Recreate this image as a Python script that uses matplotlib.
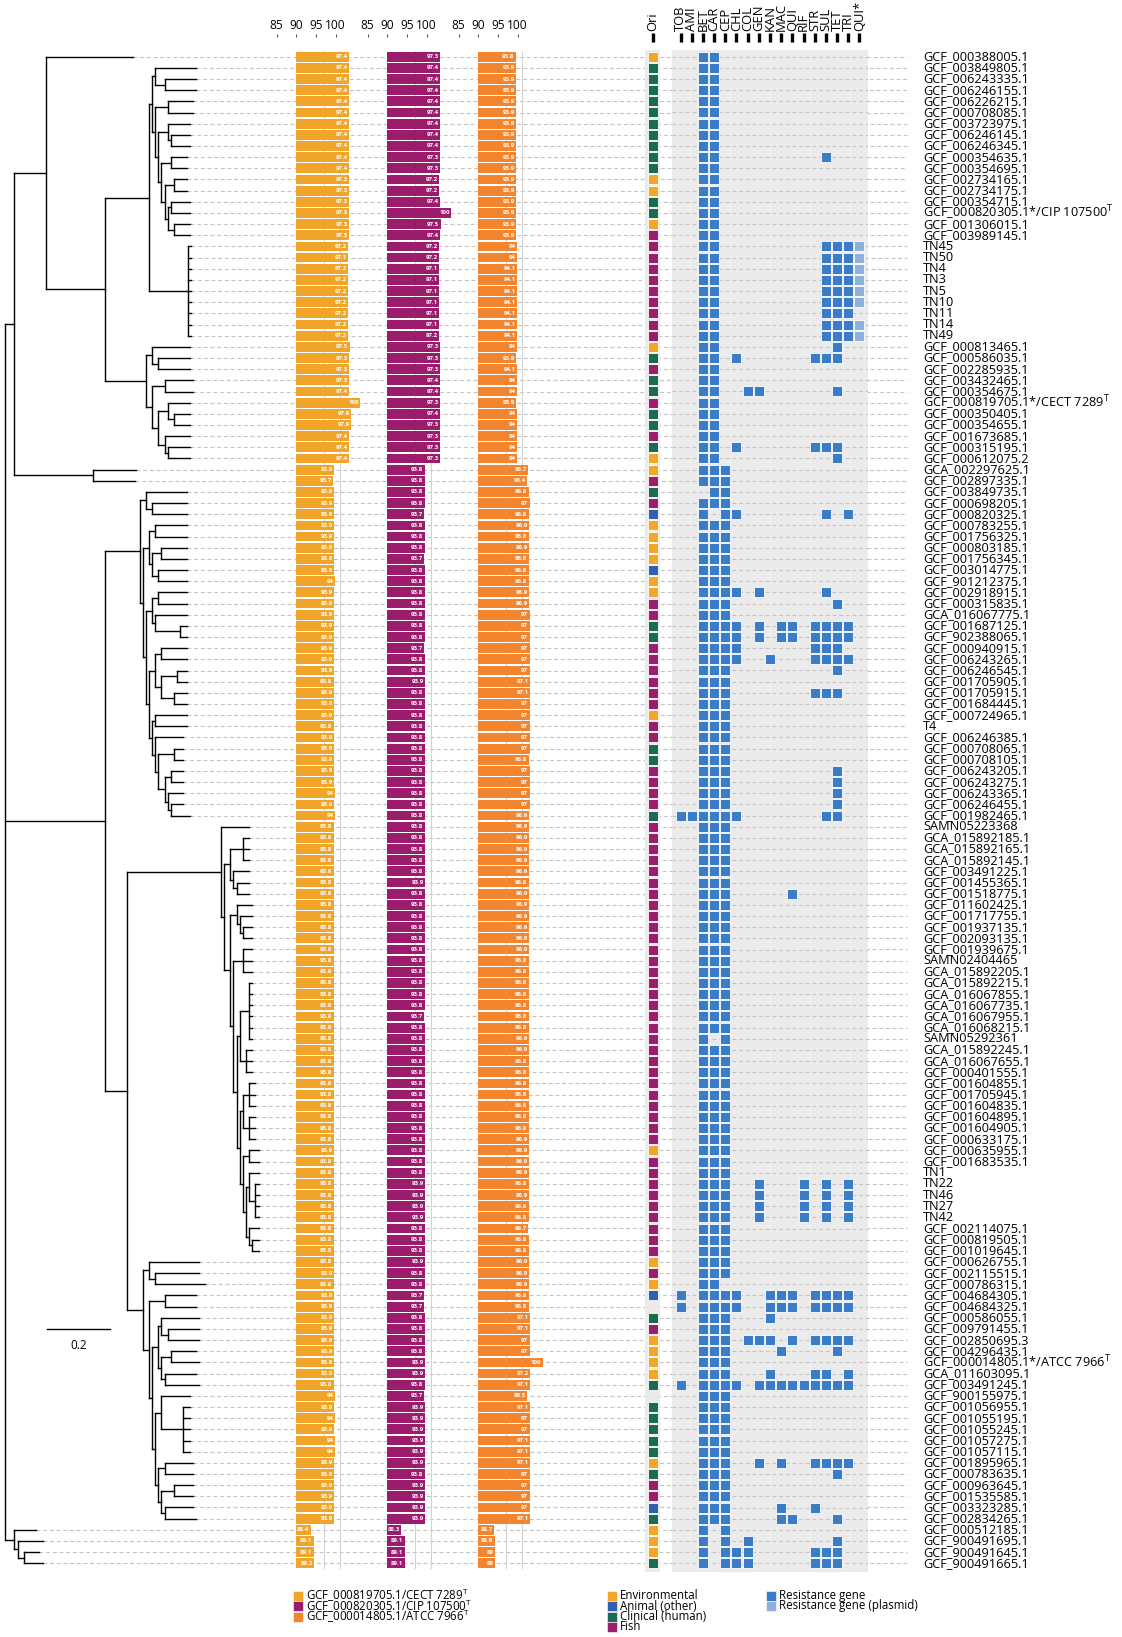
import matplotlib
matplotlib.use("Agg")
import matplotlib.pyplot as plt
import numpy as np

plt.rcParams["font.family"] = ["Open Sans", "DejaVu Sans"]

W, H = 1122, 1637

labels = [
    "GCF_000388005.1", "GCF_003849805.1", "GCF_006243335.1", "GCF_006246155.1", "GCF_006226215.1",
    "GCF_000708085.1", "GCF_003723975.1", "GCF_006246145.1", "GCF_006246345.1", "GCF_000354635.1",
    "GCF_000354695.1", "GCF_002734165.1", "GCF_002734175.1", "GCF_000354715.1",
    "GCF_000820305.1*/CIP 107500$^{\\mathregular{T}}$", "GCF_001306015.1", "GCF_003989145.1",
    "TN45", "TN50", "TN4", "TN3", "TN5", "TN10", "TN11", "TN14", "TN49",
    "GCF_000813465.1", "GCF_000586035.1", "GCF_002285935.1", "GCF_003432465.1", "GCF_000354675.1",
    "GCF_000819705.1*/CECT 7289$^{\\mathregular{T}}$", "GCF_000350405.1", "GCF_000354655.1",
    "GCF_001673685.1", "GCF_000315195.1", "GCF_000612075.2", "GCA_002297625.1", "GCF_002897335.1",
    "GCF_003849735.1", "GCF_000698205.1", "GCF_000820325.1", "GCF_000783255.1", "GCF_001756325.1",
    "GCF_000803185.1", "GCF_001756345.1", "GCF_003014775.1", "GCF_901212375.1", "GCF_002918915.1",
    "GCF_000315835.1", "GCA_016067775.1", "GCF_001687125.1", "GCF_902388065.1", "GCF_000940915.1",
    "GCF_006243265.1", "GCF_006246545.1", "GCF_001705905.1", "GCF_001705915.1", "GCF_001684445.1",
    "GCF_000724965.1", "T4", "GCF_006246385.1", "GCF_000708065.1", "GCF_000708105.1",
    "GCF_006243205.1", "GCF_006243275.1", "GCF_006243365.1", "GCF_006246455.1", "GCF_001982465.1",
    "SAMN05223368", "GCA_015892185.1", "GCA_015892165.1", "GCA_015892145.1", "GCF_003491225.1",
    "GCF_001455365.1", "GCF_001518775.1", "GCF_011602425.1", "GCF_001717755.1", "GCF_001937135.1",
    "GCF_002093135.1", "GCF_001939675.1", "SAMN02404465", "GCA_015892205.1", "GCA_015892215.1",
    "GCA_016067855.1", "GCA_016067735.1", "GCA_016067955.1", "GCA_016068215.1", "SAMN05292361",
    "GCA_015892245.1", "GCA_016067655.1", "GCF_000401555.1", "GCF_001604855.1", "GCF_001705945.1",
    "GCF_001604835.1", "GCF_001604895.1", "GCF_001604905.1", "GCF_000633175.1", "GCF_000635955.1",
    "GCF_001683535.1", "TN1", "TN22", "TN46", "TN27", "TN42", "GCF_002114075.1", "GCF_000819505.1",
    "GCF_001019645.1", "GCF_000626755.1", "GCF_002115515.1", "GCF_000786315.1", "GCF_004684305.1",
    "GCF_004684325.1", "GCF_000586055.1", "GCF_009791455.1", "GCF_002850695.3", "GCF_004296435.1",
    "GCF_000014805.1*/ATCC 7966$^{\\mathregular{T}}$", "GCA_011603095.1", "GCF_003491245.1",
    "GCF_900155975.1", "GCF_001056955.1", "GCF_001055195.1", "GCF_001055245.1", "GCF_001057275.1",
    "GCF_001057115.1", "GCF_001895965.1", "GCF_000783635.1", "GCF_000963645.1", "GCF_001535585.1",
    "GCF_003323285.1", "GCF_002834265.1", "GCF_000512185.1", "GCF_900491695.1", "GCF_900491645.1",
    "GCF_900491665.1",
]

# origin per strain: E environmental, A animal (other), C clinical (human), F fish, - unknown
origin = (
    "ECCCCCCCCCCEECCEF" "FFFFFFFFF" "ECFCCFCCFCE" "EFCFAEEE"
    "EAEEFFCCFFFFFFEFFCCFFFF" "C" "FFFFFFFFFFFFFFFFFFFFFF"
    "FFFFFFFEFF" "FFFFF" "FFEFEA-C" "FEEEEC-CCCCCECFFACEEEC"
)

# ANI (%) against the three type strains
ani_cect = [
    97.4, 97.4, 97.4, 97.4, 97.4, 97.4, 97.4, 97.4, 97.4, 97.4, 97.4, 97.3, 97.3, 97.3, 97.3, 97.3, 97.3,
    97.2, 97.1, 97.2, 97.2, 97.2, 97.2, 97.2, 97.2, 97.2,
    97.5, 97.3, 97.3, 97.3, 97.4, 100, 97.9, 97.9, 97.4, 97.4, 97.4,
    93.9, 93.7, 93.9, 93.9, 93.9, 93.9, 93.9, 93.9, 93.9, 93.9, 94, 93.9, 93.9, 93.9, 93.9, 93.9,
    93.9, 93.9, 93.9, 93.8, 93.9, 93.9, 93.9, 93.8, 93.9, 93.9, 93.9, 93.9, 93.9, 94, 93.9, 94,
    93.8, 93.8, 93.8, 93.8, 93.8, 93.8, 93.8, 93.8, 93.8, 93.8, 93.8, 93.8, 93.8, 93.8, 93.8, 93.8,
    93.8, 93.8, 93.8, 93.8, 93.8, 93.8, 93.8, 93.8, 93.8, 93.8, 93.8, 93.8, 93.8, 93.9, 93.8, 93.8,
    93.8, 93.8, 93.8, 93.8, 93.8, 93.8, 93.8, 93.8, 93.9, 93.8, 93.9, 93.9, 93.9, 93.9, 93.9, 93.9,
    93.9, 93.9, 93.8, 94, 93.9, 94, 93.9, 94, 94, 93.9, 93.9, 93.9, 93.9, 93.9, 93.9,
    88.4, 89.1, 89.1, 89.2,
]
ani_cip = [
    97.3, 97.4, 97.4, 97.4, 97.4, 97.4, 97.4, 97.4, 97.4, 97.3, 97.3, 97.2, 97.2, 97.4, 100, 97.5, 97.4,
    97.2, 97.2, 97.1, 97.1, 97.1, 97.1, 97.1, 97.1, 97.2,
    97.3, 97.3, 97.3, 97.4, 97.4, 97.3, 97.4, 97.3, 97.3, 97.3, 97.3,
    93.8, 93.8, 93.8, 93.8, 93.7, 93.8, 93.8, 93.8, 93.7, 93.8, 93.8, 93.8, 93.8, 93.8, 93.8, 93.8,
    93.7, 93.8, 93.8, 93.9, 93.8, 93.8, 93.8, 93.8, 93.8, 93.8, 93.8, 93.8, 93.8, 93.8, 93.8, 93.8,
    93.8, 93.8, 93.8, 93.8, 93.8, 93.9, 93.8, 93.8, 93.8, 93.8, 93.8, 93.8, 93.8, 93.8, 93.8, 93.8,
    93.8, 93.7, 93.8, 93.8, 93.8, 93.8, 93.8, 93.8, 93.8, 93.8, 93.8, 93.8, 93.8, 93.8, 93.8, 93.8,
    93.9, 93.9, 93.9, 93.9, 93.8, 93.8, 93.8, 93.9, 93.8, 93.8, 93.7, 93.7, 93.8, 93.8, 93.8, 93.8,
    93.9, 93.9, 93.8, 93.7, 93.9, 93.9, 93.9, 93.9, 93.9, 93.9, 93.8, 93.9, 93.9, 93.9, 93.9,
    88.3, 89.1, 89.1, 89.1,
]
ani_atcc = [
    93.8, 93.9, 93.9, 93.9, 93.9, 93.9, 93.9, 93.9, 93.9, 93.9, 93.9, 93.9, 93.9, 93.9, 93.9, 93.9, 93.9,
    94, 94, 94.1, 94.1, 94.1, 94.1, 94.1, 94.1, 94.1,
    94, 93.9, 94.1, 94, 94, 93.9, 94, 94, 94, 94, 94,
    96.7, 96.4, 96.8, 97, 96.8, 96.9, 96.8, 96.9, 96.8, 96.8, 96.8, 96.9, 96.9, 97, 97, 97,
    97, 97, 97, 97.1, 97.1, 97, 97, 97, 97, 97, 96.8, 97, 97, 97, 97, 96.9,
    96.9, 96.9, 96.9, 96.9, 96.9, 96.8, 96.9, 96.9, 96.9, 96.9, 96.9, 96.9, 96.8, 96.8, 96.8, 96.8,
    96.8, 96.8, 96.8, 96.9, 96.9, 96.8, 96.8, 96.8, 96.8, 96.8, 96.8, 96.8, 96.9, 96.9, 96.9, 96.9,
    96.8, 96.9, 96.8, 96.8, 96.7, 96.8, 96.8, 96.9, 96.9, 96.9, 96.8, 96.8, 97.1, 97.1, 97, 97,
    100, 97.2, 97.1, 96.5, 97.1, 97, 97, 97.1, 97.1, 97.1, 97, 97, 97, 97, 97.1,
    88.7, 88.9, 89, 89,
]

drugs = ["TOB", "AMI", "BET", "CAR", "CEP", "CHL", "COL", "GEN", "KAN", "MAC",
         "QUI", "RIF", "STR", "SUL", "TET", "TRI", "QUI*"]
# resistance profile per strain: 1 = gene, p = gene on plasmid
res = [
    "..11.............", "..11.............", "..11.............", "..11.............",
    "..11.............", "..11.............", "..11.............", "..11.............",
    "..11.............", "..11.........1...", "..11.............", "..11.............",
    "..11.............", "..11.............", "..11.............", "..11.............",
    "..11.............",
    "..11.........111p", "..11.........111p", "..11.........111p", "..11.........111p",
    "..11.........111p", "..11.........111p", "..11.........111.", "..11.........111p",
    "..11.........111p",
    "..11..........1..", "..11.1......111..", "..11.............", "..11.............",
    "..11..11......1..", "..11.............", "..11.............", "..11.............",
    "..11.............", "..11.1......111..", "..11..........1..",
    "..111............", "..111............", "...11............", "..111............",
    "..1.11.......1.1.", "..111............", "..111............", "..111............",
    "..111............", "..111............", "..111............", "..1111.1.....1...",
    "..111.........1..", "..111............", "..1111.1.11.1111.", "..1111.1.11.1111.",
    "..1111......111..", "..1111..1...1111.", "..111.........1..", "..111............",
    "..111.......111..", "..111............", "..111............", "..111............",
    "..111............", "..111............", "..111............",
    "..111.........1..", "..111.........1..", "..111.........1..", "..111.........1..",
    "111111.......11..",
    "..111............", "..111............", "..111............", "..111............",
    "..111............", "..111............", "..111.....1......", "..111............",
    "..111............", "..111............", "..111............", "..111............",
    "..111............", "..111............", "..111............", "..111............",
    "..111............", "..111............", "..111............", "..1.1............",
    "..111............", "..111............", "..111............", "..111............",
    "..111............", "..111............", "..111............", "..111............",
    "..111............", "..111............", "..111............", "..111............",
    "..111..1...1.1.1.", "..111..1...1.1.1.", "..111..1...1.1.1.", "..111..1...1.1.1.",
    "..111............", "..111............", "..111............", "..111............",
    "..111............", "..11.............", "1.1111..111.1111.", "1.1111..111.1111.",
    "..111...1........", "..111............", "..111.111.1.1111.", "..111....1....1..",
    "..111............", "..111...1...11.1.", "1.1111.111111111.", "..111............",
    "..111............", "..111............", "..111............", "..111............",
    "..111............", "..111..1.1..1111.", "..111.........1..", "..111............",
    "..111............", "..111....1..1....", "..111....11...1..", "..1.1............",
    "..1.1.1.......1..", "..1.111.....111..", "..1.111.....111..",
]

# phylogeny, one Newick piece per clade (leaf names are row numbers, lengths in subst./site)
clade_a1 = ("((1:0.13,(2:0.1,3:0.1):0.03):0.01,((4:0.08,5:0.08):0.04,((6:0.07,(7:0.06,8:0.06):0.01):0.03,"
            "((9:0.05,10:0.05):0.03,((11:0.04,12:0.04):0.03,((13:0.06,14:0.06):0.01,(15:0.05,16:0.05):0.02)"
            ":0.01):0.01):0.01):0.01):0.01)")
clade_tn = "(17:0.01,18:0.01,19:0.01,20:0.01,21:0.01,22:0.01,23:0.01,24:0.01,25:0.01)"
clade_a3 = ("((26:0.12,(27:0.1,28:0.1):0.02):0.02,((29:0.09,30:0.09):0.04,((31:0.07,(32:0.05,33:0.05):0.02)"
            ":0.03,(34:0.08,(35:0.07,36:0.07):0.01):0.02):0.02):0.02)")
clade_c = "(37:0.14,38:0.135)"
clade_b2 = ("((39:0.13,(40:0.11,41:0.11):0.02):0.02,(((42:0.1,43:0.1):0.02,((44:0.08,45:0.08):0.03,"
            "(46:0.09,47:0.09):0.02):0.01):0.02,(((48:0.09,49:0.09):0.02,(50:0.1,(51:0.02,52:0.02):0.08)"
            ":0.01):0.02,(((53:0.08,54:0.08):0.02,((55:0.03,56:0.03):0.05,(57:0.04,58:0.04):0.04):0.02)"
            ":0.02,((59:0.1,60:0.1):0.01,(61:0.09,((62:0.03,63:0.03):0.05,((64:0.04,65:0.04):0.02,"
            "(66:0.05,(67:0.04,68:0.06):0.01):0.01):0.02):0.01):0.01):0.01):0.01):0.01):0.01)")
clade_b3 = ("(69:0.09,(((70:0.02,71:0.02,72:0.02):0.04,(73:0.05,(74:0.04,75:0.04):0.01):0.01):0.02,"
            "((76:0.05,(77:0.04,(78:0.03,79:0.03):0.01):0.01):0.02,((80:0.03,81:0.03,82:0.03):0.03,"
            "(((83:0.01,84:0.01,85:0.01,86:0.01,87:0.01,88:0.01):0.03,(89:0.02,90:0.02,91:0.02):0.02):0.01,"
            "(((92:0.02,93:0.02,94:0.02):0.02,(95:0.02,96:0.02,97:0.02):0.02):0.01,((98:0.03,99:0.03):0.02,"
            "((100:0.03,(101:0.01,102:0.01,103:0.01,104:0.01):0.02):0.01,(105:0.03,(106:0.02,107:0.02):0.01)"
            ":0.01):0.01):0.01):0.01):0.01):0.01):0.02):0.01)")
clade_b4 = ("((108:0.16,(109:0.14,110:0.16):0.02):0.02,((111:0.1,112:0.1):0.05,(((113:0.12,(114:0.1,115:0.1)"
            ":0.02):0.01,((116:0.08,117:0.09):0.03,(118:0.1,119:0.11):0.01):0.01):0.02,((120:0.09,"
            "(121:0.02,122:0.02,123:0.02,124:0.02,125:0.02):0.07):0.02,((126:0.09,127:0.09):0.02,"
            "((128:0.06,129:0.06):0.04,(130:0.09,131:0.1):0.01):0.01):0.01):0.01):0.01):0.02)")
clade_out = "(132:0.07,(133:0.08,(134:0.05,135:0.06):0.02):0.01)"

newick = (
    "(((0:0.28,((" + clade_a1 + ":0.01," + clade_tn + ":0.125):0.14," + clade_a3 + ":0.13):0.19):0.10,"
    + clade_c + ":0.25):0.03,"
    + "(" + clade_b2 + ":0.11,(" + clade_b3 + ":0.3," + clade_b4 + ":0.05):0.07):0.32,"
    + clade_out + ":0.03);"
)

col_origin = {"E": "#F2A72B", "A": "#2F61AE", "C": "#1D6B4F", "F": "#9A1E6C"}
col_panels = ["#F0A52A", "#9B1C6D", "#F4852F"]
col_res = "#3A7CC8"
col_plasmid = "#8DB0DD"
bg_gray = "#EBEBEB"
dash_gray = "#C4C4C4"


def parse_newick(s):
    pos = 0

    def node():
        nonlocal pos
        children = []
        if s[pos] == "(":
            pos += 1
            while True:
                children.append(node())
                if s[pos] == ",":
                    pos += 1
                    continue
                pos += 1  # ")"
                break
        start = pos
        while s[pos] not in ":,();":
            pos += 1
        name = s[start:pos]
        length = 0.0
        if s[pos] == ":":
            pos += 1
            start = pos
            while s[pos] not in ",();":
                pos += 1
            length = float(s[start:pos])
        return {"name": name, "len": length, "children": children}

    return node()


def layout(n, x0=0.0):
    n["x"] = x0 + n["len"]
    if not n["children"]:
        n["y"] = float(int(n["name"]))
        return
    for c in n["children"]:
        layout(c, n["x"])
    n["y"] = float(np.mean([c["y"] for c in n["children"]]))


def draw_tree(ax, n, parent_x, tips):
    ax.plot([parent_x, n["x"]], [n["y"], n["y"]], color="black", lw=1.0, solid_capstyle="projecting")
    if n["children"]:
        ys = [c["y"] for c in n["children"]]
        ax.plot([n["x"], n["x"]], [min(ys), max(ys)], color="black", lw=1.0, solid_capstyle="projecting")
        for c in n["children"]:
            draw_tree(ax, c, n["x"], tips)
    else:
        tips[int(n["name"])] = n["x"]


n_rows = len(labels)
fig = plt.figure(figsize=(W / 100, H / 100), dpi=100)

row_top, row_pitch = 56.7, 11.16
y_top_px = row_top - row_pitch / 2
y_bot_px = row_top + row_pitch * (n_rows - 1) + row_pitch / 2


def add_axes(x0_px, x1_px, y0=y_top_px, y1=y_bot_px):
    return fig.add_axes([x0_px / W, 1 - y1 / H, (x1_px - x0_px) / W, (y1 - y0) / H])


ylim = (n_rows - 0.5, -0.5)
px_per_unit = 313.0
root_px = 5.0
label_px = 923.0
dash_end_px = 907.0

# tree + guide lines
ax_t = add_axes(0, W)
ax_t.set_xlim(-root_px / px_per_unit, (W - root_px) / px_per_unit)
ax_t.set_ylim(*ylim)
ax_t.axis("off")
tree = parse_newick(newick)
layout(tree)
tips = {}
draw_tree(ax_t, tree, tree["x"], tips)
label_x = (label_px - root_px) / px_per_unit
dash_x = (dash_end_px - root_px) / px_per_unit
for i in range(n_rows):
    ax_t.plot([tips[i], dash_x], [i, i], color=dash_gray, lw=0.8, dashes=(3.5, 2.5), zorder=0)
    ax_t.text(label_x, i, labels[i], fontsize=9.2, va="center", ha="left")
# scale bar
ax_t.plot([0.135, 0.335], [114, 114], color="black", lw=1.0)
ax_t.text(0.235, 115.5, "0.2", ha="center", va="center", fontsize=8.5)

# ANI bar panels (axis text sits left of the bars, as in the source figure)
panel_x = [296, 387, 478]
bar_scale = 4.3  # px per ANI unit
tick_pos = [80.47, 85.04, 89.62, 94.19]
tick_txt = ["85", "90", "95", "100"]
for px0, vals, col in zip(panel_x, [ani_cect, ani_cip, ani_atcc], col_panels):
    ax = add_axes(px0 - 5 * bar_scale, px0 + 17 * bar_scale)
    ax.set_xlim(80, 102)
    ax.set_ylim(*ylim)
    ax.patch.set_alpha(0)
    for v in [91.6, 95.2]:
        ax.axvline(v, color="#D3D3D3", lw=0.8, zorder=0)
    y = np.arange(n_rows)
    ax.barh(y, np.array(vals) - 85, left=85, height=0.88, color=col, zorder=2)
    for i, v in enumerate(vals):
        ax.text(v - 0.35, i, f"{v:g}", color="white", fontsize=4.3, ha="right",
                va="center", fontweight="bold", zorder=3)
    ax.xaxis.tick_top()
    ax.spines["top"].set_position(("outward", 10))
    ax.set_xticks(tick_pos, tick_txt)
    ax.tick_params(axis="x", length=2.0, width=0.8, labelsize=8.6, pad=1.5, color="#555555")
    ax.set_yticks([])
    for s in ax.spines.values():
        s.set_visible(False)

# origin column
m_top, m_bot = 50.0, 1572.0
ax_o = add_axes(645, 660, m_top, m_bot)
ax_o.set_facecolor(bg_gray)
ax_o.set_xlim(-0.7, 0.7)
ax_o.set_ylim(n_rows - 0.5 + (m_bot - y_bot_px) / row_pitch, -0.5 - (y_top_px - m_top) / row_pitch)
for i, c in enumerate(origin):
    if c in col_origin:
        ax_o.scatter(0, i, marker="s", s=46, color=col_origin[c], edgecolor="white", lw=0.6)
ax_o.set_xticks([])
ax_o.set_yticks([])
for s in ax_o.spines.values():
    s.set_visible(False)

# resistance matrix
ax_m = add_axes(671.7, 868.3, m_top, m_bot)
ax_m.set_facecolor(bg_gray)
ax_m.set_xlim(-0.8, 16.8)
ax_m.set_ylim(*ax_o.get_ylim())
for i in range(n_rows):
    ax_m.plot([-0.8, 16.8], [i, i], color=dash_gray, lw=0.8, dashes=(3.5, 2.5), zorder=0)
for i, row in enumerate(res):
    for j, c in enumerate(row):
        if c == "1":
            ax_m.scatter(j, i, marker="s", s=52, color=col_res, edgecolor="white", lw=0.6, zorder=2)
        elif c == "p":
            ax_m.scatter(j, i, marker="s", s=52, color=col_plasmid, edgecolor="white", lw=0.6, zorder=2)
ax_m.set_xticks([])
ax_m.set_yticks([])
for s in ax_m.spines.values():
    s.set_visible(False)


def header(ax, x, text):
    span = m_bot - m_top
    tr = ax.get_xaxis_transform()
    ax.plot([x, x], [1 + (m_top - 42) / span, 1 + (m_top - 33) / span], color="black", lw=2.4,
            transform=tr, clip_on=False, solid_capstyle="butt")
    ax.text(x, 1 + (m_top - 31) / span, text, rotation=90, ha="center", va="bottom", fontsize=9.4,
            transform=tr)


header(ax_o, 0, "Ori")
for j, d in enumerate(drugs):
    header(ax_m, j, d)

# legends (drawn in a small axes below the tree)
legend_groups = [
    (298, [(col_panels[0], "GCF_000819705.1/CECT 7289$^{\\mathregular{T}}$"),
           (col_panels[1], "GCF_000820305.1/CIP 107500$^{\\mathregular{T}}$"),
           (col_panels[2], "GCF_000014805.1/ATCC 7966$^{\\mathregular{T}}$")]),
    (612, [(col_origin["E"], "Environmental"), (col_origin["A"], "Animal (other)"),
           (col_origin["C"], "Clinical (human)"), (col_origin["F"], "Fish")]),
    (771, [(col_res, "Resistance gene"), (col_plasmid, "Resistance gene (plasmid)")]),
]
ax_l = fig.add_axes([0, 0, 1, 1 - 1586 / H])
ax_l.set_xlim(0, W)
ax_l.set_ylim(H - 1586, 0)
ax_l.axis("off")
for lx, items in legend_groups:
    for r, (c, t) in enumerate(items):
        ly = 9.5 + r * 10.5
        ax_l.scatter(lx, ly, marker="s", s=46, color=c, edgecolor="white", lw=0.4)
        ax_l.text(lx + 8, ly, t, fontsize=8.3, va="center", ha="left")

fig.savefig("out.png", dpi=100)
